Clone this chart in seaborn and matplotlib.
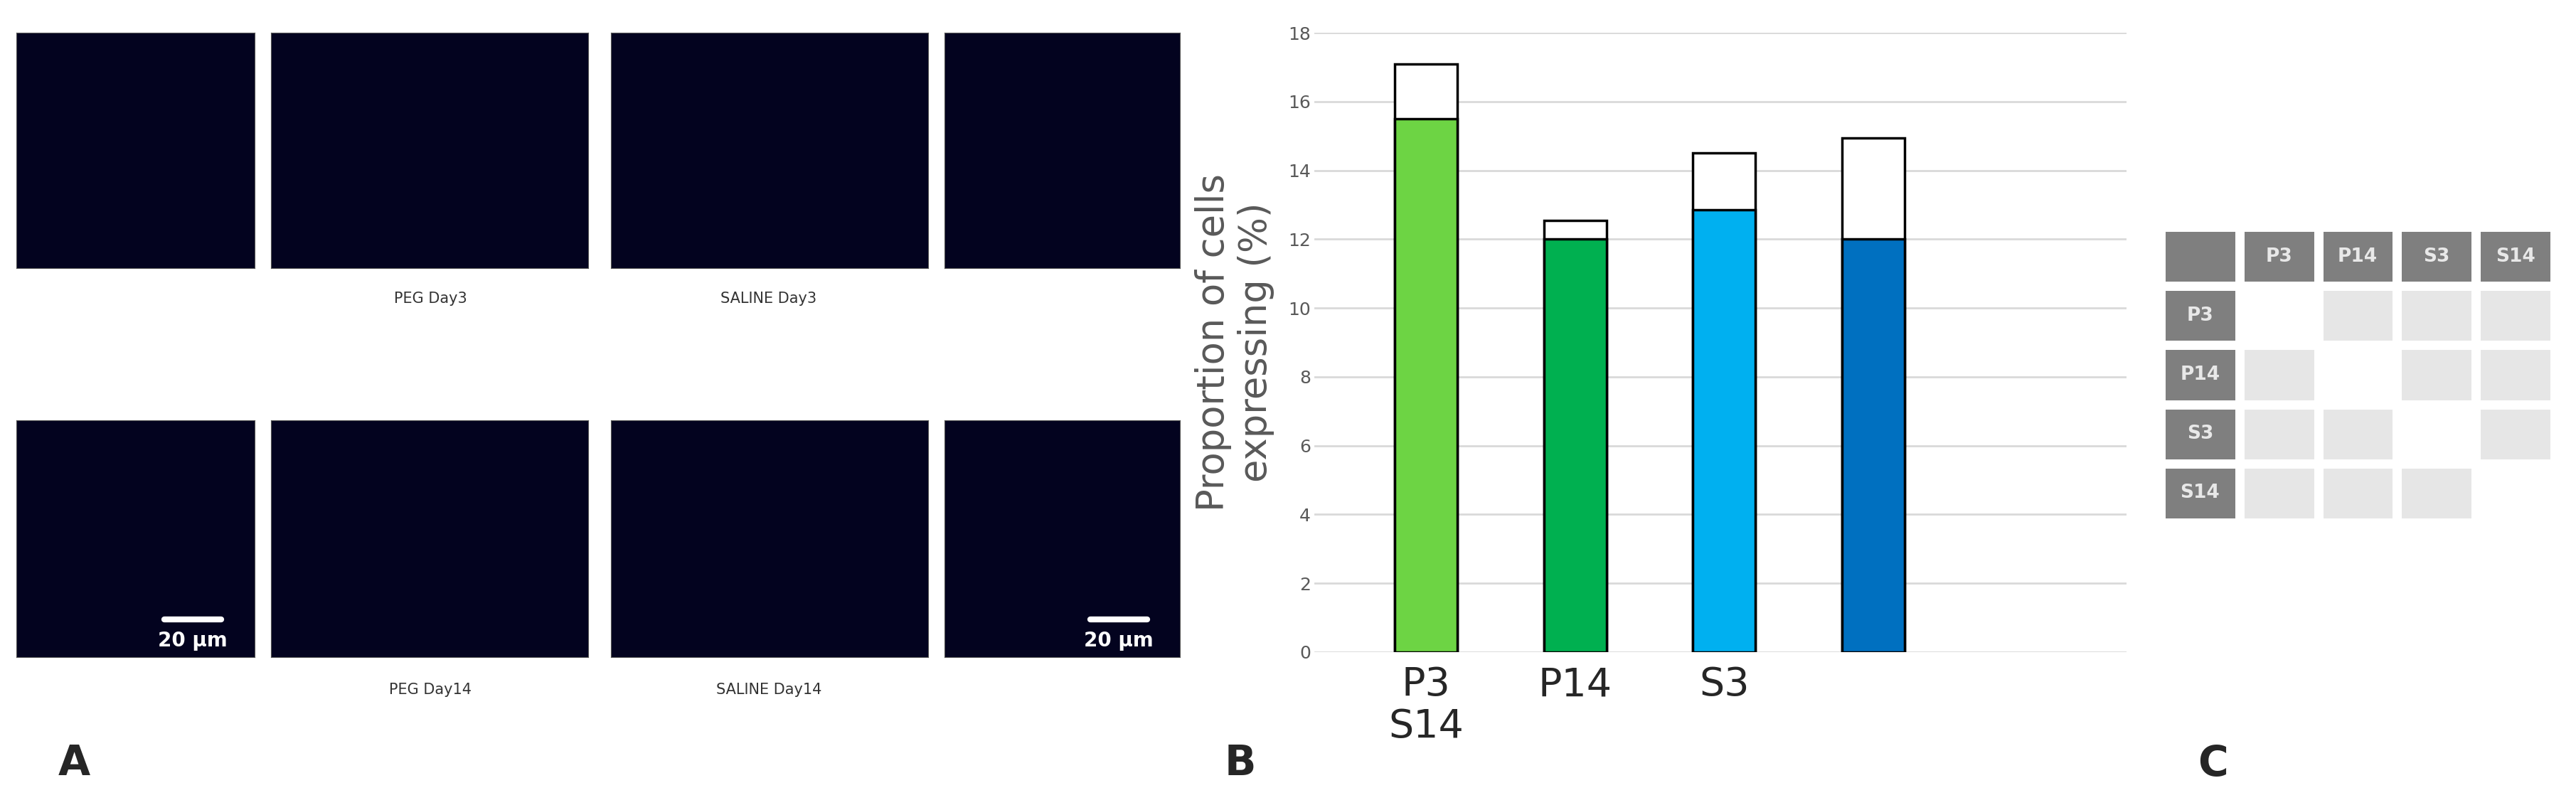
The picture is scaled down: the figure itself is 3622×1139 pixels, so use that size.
import numpy as np
import pandas as pd
import seaborn as sns
import matplotlib.pyplot as plt
from matplotlib.colors import ListedColormap

# panel B data
groups = ["P3", "P14", "S3", "S14"]
base_vals = [15.5, 12.0, 12.85, 12.0]
total_vals = [17.1, 12.55, 14.5, 14.95]
bar_colors = ["#6dd444", "#00b050", "#00b0f0", "#0070c0"]
tick_text = ["P3\nS14", "P14", "S3", ""]

# panel C grid (0 = header, 1 = empty diagonal, 2 = filled)
grid_labels = ["P3", "P14", "S3", "S14"]

# panel A captions
captions_top = ["PEG Day3", "SALINE Day3"]
captions_bottom = ["PEG Day14", "SALINE Day14"]

W, H = 3623, 1139
sns.set_style("white")
plt.rcParams['font.family'] = ['DejaVu Sans']
fig = plt.figure(figsize=(W / 100, H / 100), dpi=100)


def px_axes(x0, y0, x1, y1):
    return fig.add_axes([x0 / W, 1 - y1 / H, (x1 - x0) / W, (y1 - y0) / H])


# ---- panel A: microscopy placeholders
img_boxes = [(23, 46, 358, 377), (381, 46, 827, 377), (859, 46, 1305, 377), (1328, 46, 1659, 377),
             (23, 591, 358, 924), (381, 591, 827, 924), (859, 591, 1305, 924), (1328, 591, 1659, 924)]
for i, (x0, y0, x1, y1) in enumerate(img_boxes):
    ax = px_axes(x0, y0, x1, y1)
    ax.set_facecolor("#03031f")
    ax.set_xticks([]); ax.set_yticks([])
    for s in ax.spines.values():
        s.set_color("#555555")
    if i in (4, 7):
        ax.plot([0.62, 0.86], [0.16, 0.16], color="white", lw=6, transform=ax.transAxes)
        ax.text(0.74, 0.11, "20 µm", color="white", fontsize=20, fontweight="bold",
                ha="center", va="top", transform=ax.transAxes)
for cx, t in zip([605, 1081], captions_top):
    fig.text(cx / W, 1 - 420 / H, t, ha="center", va="center", fontsize=15, color="#333333")
for cx, t in zip([605, 1081], captions_bottom):
    fig.text(cx / W, 1 - 970 / H, t, ha="center", va="center", fontsize=15, color="#333333")

# ---- panel B: stacked bars
axb = px_axes(1848, 46, 2990, 917)
df = pd.DataFrame({"group": groups, "base": base_vals, "total": total_vals})
sns.barplot(data=df, x="group", y="total", color="white", edgecolor="black", linewidth=2.5,
            width=0.42, saturation=1, ax=axb)
sns.barplot(data=df, x="group", y="base", palette=bar_colors, hue="group", legend=False,
            edgecolor="black", linewidth=2.5, width=0.42, saturation=1, ax=axb)
axb.set_xlim(-0.75, 4.7)
axb.set_ylim(0, 18)
axb.set_yticks(range(0, 19, 2))
axb.yaxis.grid(True, color="#d9d9d9", lw=2)
axb.set_axisbelow(True)
for s in axb.spines.values():
    s.set_visible(False)
axb.tick_params(axis="y", labelsize=18, labelcolor="#595959", length=0)
axb.tick_params(axis="x", length=0, labelsize=40, pad=14)
axb.set_xticks(range(4))
axb.set_xticklabels(tick_text, ha="center", linespacing=1.1)
axb.set_xlabel("")
axb.set_ylabel("Proportion of cells\nexpressing (%)", fontsize=38, color="#595959", labelpad=14)

# ---- panel C: comparison grid
n = len(grid_labels) + 1
mat = np.full((n, n), 2)
mat[0, :] = 0
mat[:, 0] = 0
for k in range(1, n):
    mat[k, k] = 1
annot = np.full((n, n), "", dtype=object)
for k, lab in enumerate(grid_labels, start=1):
    annot[0, k] = lab
    annot[k, 0] = lab
axc = px_axes(3038, 319, 3592, 735)
sns.heatmap(mat, cmap=ListedColormap(["#7f7f7f", "#ffffff", "#e6e6e6"]), vmin=-0.5, vmax=2.5,
            cbar=False, linewidths=9, linecolor="white", annot=annot, fmt="",
            annot_kws={"fontsize": 19, "fontweight": "bold", "color": "#e8e8e8"}, ax=axc)
axc.set_xticks([]); axc.set_yticks([])

# panel letters
for x, lab in [(104, "A"), (1744, "B"), (3112, "C")]:
    fig.text(x / W, 1 - 1074 / H, lab, fontsize=42, fontweight="bold", ha="center", va="center")

fig.savefig("out.png", dpi=100)
